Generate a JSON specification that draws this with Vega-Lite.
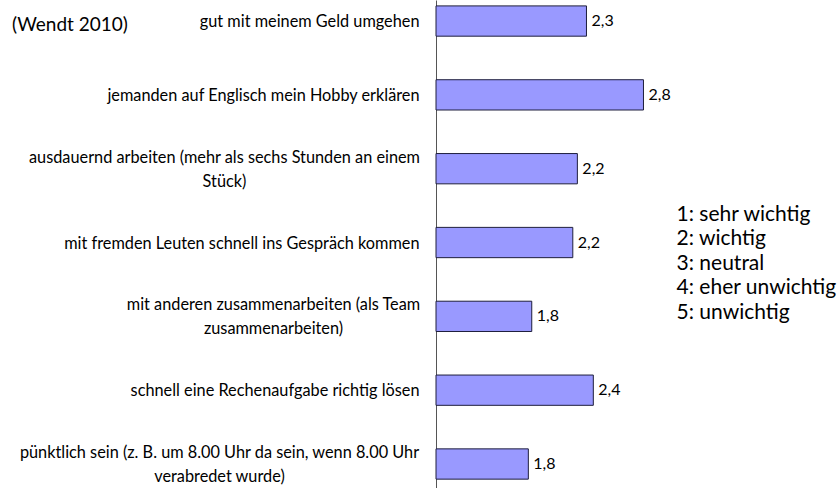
{
  "$schema": "https://vega.github.io/schema/vega-lite/v6.json",
  "width": 342,
  "height": 488,
  "autosize": "none",
  "padding": {"left": 436, "top": 0, "right": 60, "bottom": 0},
  "background": "#ffffff",
  "config": {
    "view": {"stroke": null},
    "locale": {"number": {"decimal": ",", "thousands": ".", "grouping": [3], "currency": ["", " €"]}}
  },
  "title": {
    "text": "(Wendt 2010)",
    "anchor": "start",
    "frame": "bounds",
    "font": "Lato",
    "fontSize": 19,
    "fontWeight": "normal",
    "color": "#000000",
    "baseline": "top",
    "offset": 0,
    "dy": 35,
    "dx": -7
  },
  "data": {
    "values": [
      {"item": "gut mit meinem Geld umgehen", "value": 2.32},
      {"item": "jemanden auf Englisch mein Hobby erklären", "value": 2.82},
      {"item": "ausdauernd arbeiten (mehr als sechs Stunden an einem\nStück)", "value": 2.24},
      {"item": "mit fremden Leuten schnell ins Gespräch kommen", "value": 2.2},
      {"item": "mit anderen zusammenarbeiten (als Team\nzusammenarbeiten)", "value": 1.84},
      {"item": "schnell eine Rechenaufgabe richtig lösen", "value": 2.38},
      {"item": "pünktlich sein (z. B. um 8.00 Uhr da sein, wenn 8.00 Uhr\nverabredet wurde)", "value": 1.81}
    ]
  },
  "encoding": {
    "y": {
      "field": "item",
      "type": "nominal",
      "sort": null,
      "scale": {"paddingInner": 0.59, "paddingOuter": 0.1, "align": 0.4},
      "axis": {
        "title": null,
        "ticks": false,
        "domainColor": "#555555",
        "domainWidth": 1,
        "labelFont": "Lato",
        "labelFontSize": 16.3,
        "labelColor": "#000000",
        "labelLimit": 0,
        "labelLineHeight": 24,
        "labelExpr": "split(datum.label, '\\n')",
        "labelAlign": {
          "condition": {"test": "indexof(datum.value, '\\n') >= 0", "value": "center"},
          "value": "right"
        },
        "labelOffset": {
          "condition": {"test": "indexof(datum.value, '\\n') >= 0", "value": -11},
          "value": 1
        },
        "labelPadding": {
          "condition": [
            {"test": "indexof(datum.value, 'ausdauernd') == 0", "value": 212},
            {"test": "indexof(datum.value, 'mit anderen') == 0", "value": 163},
            {"test": "indexof(datum.value, 'pünktlich') == 0", "value": 217}
          ],
          "value": 17
        }
      }
    }
  },
  "layer": [
    {
      "mark": {"type": "bar", "fill": "#9999ff", "stroke": "#1e1e3c", "strokeWidth": 1},
      "encoding": {
        "x": {"field": "value", "type": "quantitative", "scale": {"domain": [1, 4], "nice": false, "zero": false}, "axis": null},
        "x2": {"datum": 1}
      }
    },
    {
      "mark": {"type": "text", "align": "left", "baseline": "middle", "dx": 5, "font": "Lato", "fontSize": 16, "color": "#000000"},
      "encoding": {
        "x": {"field": "value", "type": "quantitative"},
        "text": {"field": "value", "type": "quantitative", "format": ".1f"}
      }
    },
    {
      "data": {"values": [{"note": "1: sehr wichtig\n2: wichtig\n3: neutral\n4: eher unwichtig\n5: unwichtig"}]},
      "mark": {"type": "text", "align": "left", "baseline": "middle", "lineBreak": "\n", "lineHeight": 24.5, "font": "Lato", "fontSize": 21, "color": "#000000", "dy": -28},
      "encoding": {
        "x": {"datum": 3.11},
        "y": {"datum": "mit fremden Leuten schnell ins Gespräch kommen"},
        "text": {"field": "note", "type": "nominal"}
      }
    }
  ]
}
